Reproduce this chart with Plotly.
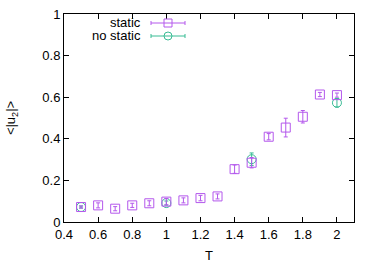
import plotly.graph_objects as go

T_static = [0.5, 0.6, 0.7, 0.8, 0.9, 1.0, 1.1, 1.2, 1.3, 1.4, 1.5, 1.6, 1.7, 1.8, 1.9, 2.0]
u_static = [0.072, 0.080, 0.064, 0.080, 0.090, 0.098, 0.104, 0.115, 0.123, 0.254, 0.285, 0.410, 0.454, 0.506, 0.613, 0.610]
e_static = [0.005, 0.012, 0.010, 0.010, 0.012, 0.015, 0.012, 0.013, 0.012, 0.020, 0.025, 0.015, 0.045, 0.030, 0.010, 0.010]

T_nostatic = [0.5, 1.0, 1.5, 2.0]
u_nostatic = [0.072, 0.091, 0.302, 0.573]
e_nostatic = [0.005, 0.010, 0.030, 0.020]

x_ticks = [0.4, 0.6, 0.8, 1.0, 1.2, 1.4, 1.6, 1.8, 2.0]
x_labels = ["0.4", "0.6", "0.8", "1", "1.2", "1.4", "1.6", "1.8", "2"]
y_ticks = [0, 0.2, 0.4, 0.6, 0.8, 1.0]
y_labels = ["0", "0.2", "0.4", "0.6", "0.8", "1"]

c_static = "#b458ec"
c_nostatic = "#38bc94"

fig = go.Figure()
fig.add_trace(go.Scatter(
    x=T_nostatic, y=u_nostatic, mode="markers", name="no static",
    marker=dict(symbol="circle-open", size=9, color=c_nostatic, line=dict(width=1)),
    error_y=dict(type="data", array=e_nostatic, color=c_nostatic, thickness=1, width=2),
    showlegend=False))
fig.add_trace(go.Scatter(
    x=T_static, y=u_static, mode="markers", name="static",
    marker=dict(symbol="square-open", size=9, color=c_static, line=dict(width=1)),
    error_y=dict(type="data", array=e_static, color=c_static, thickness=1, width=2),
    showlegend=False))

# custom gnuplot-style legend (text right, sample to the right)
font = dict(family="Liberation Sans, Arial, sans-serif", size=13, color="#000")
shapes = []
annotations = []
rows = [("static", c_static, "square", 23), ("no static", c_nostatic, "circle", 36)]
for label, col, sym, ypx in rows:
    yp = 1 - (ypx - 14) / 208
    annotations.append(dict(text=label, xref="paper", yref="paper",
                            x=(143 - 64) / 290, y=yp,
                            xanchor="right", yanchor="middle", showarrow=False, font=font))
    x0, x1, xm = (151 - 64) / 290, (185 - 64) / 290, (168 - 64) / 290
    shapes.append(dict(type="line", xref="paper", yref="paper", x0=x0, x1=x1, y0=yp, y1=yp,
                       line=dict(color=col, width=1)))
    dy = 2 / 208
    for xx in (x0, x1):
        shapes.append(dict(type="line", xref="paper", yref="paper", x0=xx, x1=xx,
                           y0=yp - dy, y1=yp + dy, line=dict(color=col, width=1)))
    hx, hy = 4 / 290, 4 / 208
    shapes.append(dict(type="rect" if sym == "square" else "circle", xref="paper", yref="paper",
                       x0=xm - hx, x1=xm + hx, y0=yp - hy, y1=yp + hy,
                       line=dict(color=col, width=1), fillcolor="rgba(0,0,0,0)"))

fig.update_layout(
    width=378, height=265,
    margin=dict(l=64, r=24, t=14, b=43),
    plot_bgcolor="white", paper_bgcolor="white",
    font=font, shapes=shapes, annotations=annotations,
    xaxis=dict(range=[0.4, 2.1], tickvals=x_ticks, ticktext=x_labels, automargin=False,
               ticks="inside", ticklen=5, tickcolor="#000", showline=True, linecolor="#000",
               linewidth=1, mirror="ticks", showgrid=False, zeroline=False,
               title=dict(text="T", font=font, standoff=10)),
    yaxis=dict(range=[0, 1], tickvals=y_ticks, ticktext=y_labels, automargin=False,
               ticks="inside", ticklen=5, tickcolor="#000", showline=True, linecolor="#000",
               linewidth=1, mirror="ticks", showgrid=False, zeroline=False,
               title=dict(text="<|u<sub>2</sub>|>", font=font, standoff=23)),
)

fig.write_html("out.html", config={"displayModeBar": False},
               post_script="document.body.style.margin='0';")
